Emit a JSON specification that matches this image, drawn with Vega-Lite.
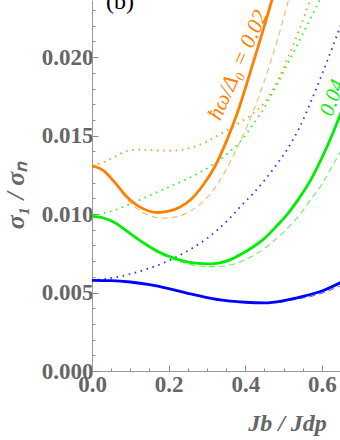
{
  "$schema": "https://vega.github.io/schema/vega-lite/v6.json",
  "width": 248,
  "height": 371,
  "autosize": "none",
  "padding": {"left": 92, "top": 0, "right": 0, "bottom": 69},
  "config": {"view": {"stroke": null}, "background": "white"},
  "datasets": {
    "curves": [
      {"curve":"orange","style":"solid","x":0,"y":0.01307},{"curve":"orange","style":"solid","x":0.03,"y":0.01277},{"curve":"orange","style":"solid","x":0.06,"y":0.012},{"curve":"orange","style":"solid","x":0.09,"y":0.01112},{"curve":"orange","style":"solid","x":0.12,"y":0.01052},{"curve":"orange","style":"solid","x":0.15,"y":0.01018},{"curve":"orange","style":"solid","x":0.17,"y":0.0101},{"curve":"orange","style":"solid","x":0.2,"y":0.01018},{"curve":"orange","style":"solid","x":0.23,"y":0.01045},{"curve":"orange","style":"solid","x":0.26,"y":0.01098},{"curve":"orange","style":"solid","x":0.29,"y":0.01185},{"curve":"orange","style":"solid","x":0.32,"y":0.013},{"curve":"orange","style":"solid","x":0.35,"y":0.0146},{"curve":"orange","style":"solid","x":0.38,"y":0.0165},{"curve":"orange","style":"solid","x":0.41,"y":0.0188},{"curve":"orange","style":"solid","x":0.44,"y":0.0212},{"curve":"orange","style":"solid","x":0.47,"y":0.0237},{"curve":"orange","style":"solid","x":0.48,"y":0.0246},
      {"curve":"orange","style":"dashed","x":0,"y":0.01307},{"curve":"orange","style":"dashed","x":0.03,"y":0.01275},{"curve":"orange","style":"dashed","x":0.06,"y":0.01195},{"curve":"orange","style":"dashed","x":0.09,"y":0.011},{"curve":"orange","style":"dashed","x":0.12,"y":0.0103},{"curve":"orange","style":"dashed","x":0.15,"y":0.0099},{"curve":"orange","style":"dashed","x":0.18,"y":0.00975},{"curve":"orange","style":"dashed","x":0.21,"y":0.00978},{"curve":"orange","style":"dashed","x":0.24,"y":0.00998},{"curve":"orange","style":"dashed","x":0.27,"y":0.0104},{"curve":"orange","style":"dashed","x":0.3,"y":0.01105},{"curve":"orange","style":"dashed","x":0.33,"y":0.012},{"curve":"orange","style":"dashed","x":0.36,"y":0.0133},{"curve":"orange","style":"dashed","x":0.39,"y":0.0148},{"curve":"orange","style":"dashed","x":0.42,"y":0.0165},{"curve":"orange","style":"dashed","x":0.45,"y":0.0185},{"curve":"orange","style":"dashed","x":0.48,"y":0.0208},{"curve":"orange","style":"dashed","x":0.51,"y":0.0234},{"curve":"orange","style":"dashed","x":0.52,"y":0.0243},
      {"curve":"orange","style":"dotted","x":0,"y":0.01307},{"curve":"orange","style":"dotted","x":0.03,"y":0.0133},{"curve":"orange","style":"dotted","x":0.06,"y":0.01365},{"curve":"orange","style":"dotted","x":0.09,"y":0.014},{"curve":"orange","style":"dotted","x":0.12,"y":0.0141},{"curve":"orange","style":"dotted","x":0.15,"y":0.01408},{"curve":"orange","style":"dotted","x":0.18,"y":0.01404},{"curve":"orange","style":"dotted","x":0.21,"y":0.01404},{"curve":"orange","style":"dotted","x":0.24,"y":0.01412},{"curve":"orange","style":"dotted","x":0.27,"y":0.01432},{"curve":"orange","style":"dotted","x":0.3,"y":0.01462},{"curve":"orange","style":"dotted","x":0.33,"y":0.01503},{"curve":"orange","style":"dotted","x":0.36,"y":0.01545},{"curve":"orange","style":"dotted","x":0.39,"y":0.0159},{"curve":"orange","style":"dotted","x":0.42,"y":0.0164},{"curve":"orange","style":"dotted","x":0.45,"y":0.0171},{"curve":"orange","style":"dotted","x":0.48,"y":0.0183},{"curve":"orange","style":"dotted","x":0.51,"y":0.0199},{"curve":"orange","style":"dotted","x":0.54,"y":0.0217},{"curve":"orange","style":"dotted","x":0.57,"y":0.0237},{"curve":"orange","style":"dotted","x":0.58,"y":0.0244},
      {"curve":"green","style":"solid","x":0,"y":0.00985},{"curve":"green","style":"solid","x":0.03,"y":0.00975},{"curve":"green","style":"solid","x":0.06,"y":0.00945},{"curve":"green","style":"solid","x":0.09,"y":0.00893},{"curve":"green","style":"solid","x":0.12,"y":0.0084},{"curve":"green","style":"solid","x":0.15,"y":0.00792},{"curve":"green","style":"solid","x":0.18,"y":0.00752},{"curve":"green","style":"solid","x":0.21,"y":0.00722},{"curve":"green","style":"solid","x":0.24,"y":0.007},{"curve":"green","style":"solid","x":0.27,"y":0.00687},{"curve":"green","style":"solid","x":0.3,"y":0.00682},{"curve":"green","style":"solid","x":0.33,"y":0.00688},{"curve":"green","style":"solid","x":0.36,"y":0.00708},{"curve":"green","style":"solid","x":0.39,"y":0.00745},{"curve":"green","style":"solid","x":0.42,"y":0.0079},{"curve":"green","style":"solid","x":0.45,"y":0.00845},{"curve":"green","style":"solid","x":0.48,"y":0.0092},{"curve":"green","style":"solid","x":0.51,"y":0.01},{"curve":"green","style":"solid","x":0.54,"y":0.011},{"curve":"green","style":"solid","x":0.57,"y":0.01215},{"curve":"green","style":"solid","x":0.6,"y":0.0136},{"curve":"green","style":"solid","x":0.63,"y":0.01525},{"curve":"green","style":"solid","x":0.66,"y":0.0171},
      {"curve":"green","style":"dashed","x":0,"y":0.00985},{"curve":"green","style":"dashed","x":0.03,"y":0.00975},{"curve":"green","style":"dashed","x":0.06,"y":0.00945},{"curve":"green","style":"dashed","x":0.09,"y":0.00893},{"curve":"green","style":"dashed","x":0.12,"y":0.00838},{"curve":"green","style":"dashed","x":0.15,"y":0.00788},{"curve":"green","style":"dashed","x":0.18,"y":0.00745},{"curve":"green","style":"dashed","x":0.21,"y":0.00712},{"curve":"green","style":"dashed","x":0.24,"y":0.00688},{"curve":"green","style":"dashed","x":0.27,"y":0.00672},{"curve":"green","style":"dashed","x":0.3,"y":0.00665},{"curve":"green","style":"dashed","x":0.33,"y":0.00665},{"curve":"green","style":"dashed","x":0.36,"y":0.00675},{"curve":"green","style":"dashed","x":0.39,"y":0.00698},{"curve":"green","style":"dashed","x":0.42,"y":0.00735},{"curve":"green","style":"dashed","x":0.45,"y":0.00782},{"curve":"green","style":"dashed","x":0.48,"y":0.0084},{"curve":"green","style":"dashed","x":0.51,"y":0.0091},{"curve":"green","style":"dashed","x":0.54,"y":0.0099},{"curve":"green","style":"dashed","x":0.57,"y":0.0109},{"curve":"green","style":"dashed","x":0.6,"y":0.0119},{"curve":"green","style":"dashed","x":0.63,"y":0.0132},{"curve":"green","style":"dashed","x":0.66,"y":0.0145},
      {"curve":"green","style":"dotted","x":0,"y":0.00985},{"curve":"green","style":"dotted","x":0.03,"y":0.01005},{"curve":"green","style":"dotted","x":0.06,"y":0.01025},{"curve":"green","style":"dotted","x":0.09,"y":0.01055},{"curve":"green","style":"dotted","x":0.12,"y":0.01085},{"curve":"green","style":"dotted","x":0.15,"y":0.01118},{"curve":"green","style":"dotted","x":0.18,"y":0.0115},{"curve":"green","style":"dotted","x":0.21,"y":0.01183},{"curve":"green","style":"dotted","x":0.24,"y":0.01215},{"curve":"green","style":"dotted","x":0.27,"y":0.0125},{"curve":"green","style":"dotted","x":0.3,"y":0.0129},{"curve":"green","style":"dotted","x":0.33,"y":0.0134},{"curve":"green","style":"dotted","x":0.36,"y":0.014},{"curve":"green","style":"dotted","x":0.39,"y":0.0147},{"curve":"green","style":"dotted","x":0.42,"y":0.0157},{"curve":"green","style":"dotted","x":0.45,"y":0.0168},{"curve":"green","style":"dotted","x":0.48,"y":0.01815},{"curve":"green","style":"dotted","x":0.51,"y":0.01955},{"curve":"green","style":"dotted","x":0.54,"y":0.021},{"curve":"green","style":"dotted","x":0.57,"y":0.02245},{"curve":"green","style":"dotted","x":0.6,"y":0.02395},{"curve":"green","style":"dotted","x":0.61,"y":0.0245},
      {"curve":"blue","style":"solid","x":0,"y":0.00578},{"curve":"blue","style":"solid","x":0.05,"y":0.00576},{"curve":"blue","style":"solid","x":0.1,"y":0.00567},{"curve":"blue","style":"solid","x":0.15,"y":0.0055},{"curve":"blue","style":"solid","x":0.2,"y":0.00525},{"curve":"blue","style":"solid","x":0.25,"y":0.00495},{"curve":"blue","style":"solid","x":0.3,"y":0.00468},{"curve":"blue","style":"solid","x":0.35,"y":0.00448},{"curve":"blue","style":"solid","x":0.4,"y":0.00438},{"curve":"blue","style":"solid","x":0.45,"y":0.00434},{"curve":"blue","style":"solid","x":0.5,"y":0.00448},{"curve":"blue","style":"solid","x":0.55,"y":0.00475},{"curve":"blue","style":"solid","x":0.6,"y":0.0051},{"curve":"blue","style":"solid","x":0.65,"y":0.00565},
      {"curve":"blue","style":"dashed","x":0,"y":0.00578},{"curve":"blue","style":"dashed","x":0.05,"y":0.00576},{"curve":"blue","style":"dashed","x":0.1,"y":0.00567},{"curve":"blue","style":"dashed","x":0.15,"y":0.0055},{"curve":"blue","style":"dashed","x":0.2,"y":0.00525},{"curve":"blue","style":"dashed","x":0.25,"y":0.00495},{"curve":"blue","style":"dashed","x":0.3,"y":0.00468},{"curve":"blue","style":"dashed","x":0.35,"y":0.00447},{"curve":"blue","style":"dashed","x":0.4,"y":0.00436},{"curve":"blue","style":"dashed","x":0.45,"y":0.00432},{"curve":"blue","style":"dashed","x":0.5,"y":0.00442},{"curve":"blue","style":"dashed","x":0.55,"y":0.00465},{"curve":"blue","style":"dashed","x":0.6,"y":0.00495},{"curve":"blue","style":"dashed","x":0.65,"y":0.00545},
      {"curve":"blue","style":"dotted","x":0,"y":0.00578},{"curve":"blue","style":"dotted","x":0.03,"y":0.00585},{"curve":"blue","style":"dotted","x":0.06,"y":0.00596},{"curve":"blue","style":"dotted","x":0.09,"y":0.00612},{"curve":"blue","style":"dotted","x":0.12,"y":0.00632},{"curve":"blue","style":"dotted","x":0.15,"y":0.00655},{"curve":"blue","style":"dotted","x":0.18,"y":0.00682},{"curve":"blue","style":"dotted","x":0.21,"y":0.00714},{"curve":"blue","style":"dotted","x":0.24,"y":0.00752},{"curve":"blue","style":"dotted","x":0.27,"y":0.00795},{"curve":"blue","style":"dotted","x":0.3,"y":0.00845},{"curve":"blue","style":"dotted","x":0.33,"y":0.00905},{"curve":"blue","style":"dotted","x":0.36,"y":0.00975},{"curve":"blue","style":"dotted","x":0.39,"y":0.01055},{"curve":"blue","style":"dotted","x":0.42,"y":0.0113},{"curve":"blue","style":"dotted","x":0.45,"y":0.01215},{"curve":"blue","style":"dotted","x":0.48,"y":0.0131},{"curve":"blue","style":"dotted","x":0.51,"y":0.01415},{"curve":"blue","style":"dotted","x":0.54,"y":0.01545},{"curve":"blue","style":"dotted","x":0.57,"y":0.0171},{"curve":"blue","style":"dotted","x":0.6,"y":0.0189},{"curve":"blue","style":"dotted","x":0.63,"y":0.0208},{"curve":"blue","style":"dotted","x":0.65,"y":0.0221}
    ],
    "labels": [
      {"name":"orange","x":0.38,"y":0.0195,"text":"ħω/Δ₀ = 0.02"},
      {"name":"green","x":0.628,"y":0.0174,"text":"0.04"},
      {"name":"panel","x":0.073,"y":0.02307,"text":"(b)"}
    ]
  },
  "encoding": {
    "x": {
      "field": "x", "type": "quantitative",
      "scale": {"domain": [0, 0.647], "nice": false, "zero": false},
      "axis": {
        "title": "Jb / Jdp",
        "values": [0,0.05,0.1,0.15,0.2,0.25,0.3,0.35,0.4,0.45,0.5,0.55,0.6],
        "labelExpr": "abs(datum.value*5 - round(datum.value*5)) < 0.001 ? format(datum.value, '.1f') : ''",
        "grid": false,
        "domainColor": "#9a9a9a", "tickColor": "#8a8a8a", "tickWidth": 1,
        "tickSize": {"condition": {"test": "abs(datum.value*5 - round(datum.value*5)) < 0.001", "value": -6}, "value": -3},
        "labelFont": "Liberation Serif", "labelFontWeight": "bold", "labelFontSize": 23, "labelColor": "#666666",
        "labelPadding": 8, "labelFlush": false, "labelOverlap": false,
        "titleFont": "Liberation Serif", "titleFontStyle": "italic", "titleFontWeight": "bold", "titleFontSize": 24, "titleColor": "#666666",
        "titleX": 195, "titleY": 59, "titleBaseline": "alphabetic", "titleAlign": "center"
      }
    },
    "y": {
      "field": "y", "type": "quantitative",
      "scale": {"domain": [0, 0.02364], "nice": false},
      "axis": {
        "title": "σ₁ / σₙ",
        "values": [0,0.001,0.002,0.003,0.004,0.005,0.006,0.007,0.008,0.009,0.01,0.011,0.012,0.013,0.014,0.015,0.016,0.017,0.018,0.019,0.02,0.021,0.022,0.023],
        "labelExpr": "abs(datum.value*200 - round(datum.value*200)) < 0.001 ? format(datum.value, '.3f') : ''",
        "grid": false,
        "domainColor": "#9a9a9a", "tickColor": "#8a8a8a", "tickWidth": 1,
        "tickSize": {"condition": {"test": "abs(datum.value*200 - round(datum.value*200)) < 0.001", "value": -6}, "value": -3},
        "labelFont": "Liberation Serif", "labelFontWeight": "bold", "labelFontSize": 23, "labelColor": "#666666",
        "labelPadding": 5, "labelFlush": false, "labelOverlap": false,
        "titleFont": "Liberation Serif", "titleFontStyle": "italic", "titleFontWeight": "bold", "titleFontSize": 26, "titleColor": "#666666",
        "titleX": -77, "titleY": 195, "titleBaseline": "middle", "titleAlign": "center", "titleAngle": -90
      }
    }
  },
  "layer": [
    {
      "data": {"name": "curves"},
      "transform": [{"filter": "datum.style === 'dashed'"}],
      "mark": {"type": "line", "clip": true, "interpolate": "monotone", "strokeWidth": 1.1, "strokeDash": [6, 4], "opacity": 0.6},
      "encoding": {
        "color": {"field": "curve", "type": "nominal", "scale": {"domain": ["orange","green","blue"], "range": ["#ff8000","#00ee00","#0000ff"]}, "legend": null},
        "detail": {"field": "curve"}
      }
    },
    {
      "data": {"name": "curves"},
      "transform": [{"filter": "datum.style === 'dotted'"}],
      "mark": {"type": "line", "clip": true, "interpolate": "monotone", "strokeWidth": 1.8, "strokeDash": [1.6, 4.6], "opacity": 0.8},
      "encoding": {
        "color": {"field": "curve", "type": "nominal", "scale": {"domain": ["orange","green","blue"], "range": ["#ff8000","#00ee00","#0000ff"]}, "legend": null},
        "detail": {"field": "curve"}
      }
    },
    {
      "data": {"name": "curves"},
      "transform": [{"filter": "datum.style === 'solid'"}],
      "mark": {"type": "line", "clip": true, "interpolate": "monotone", "strokeWidth": 2.8},
      "encoding": {
        "color": {"field": "curve", "type": "nominal", "scale": {"domain": ["orange","green","blue"], "range": ["#ff8000","#00ee00","#0000ff"]}, "legend": null},
        "detail": {"field": "curve"}
      }
    },
    {
      "data": {"name": "labels"},
      "transform": [{"filter": "datum.name === 'orange'"}],
      "mark": {"type": "text", "angle": -66, "font": "Liberation Serif", "fontStyle": "italic", "fontSize": 22, "color": "#ff8000", "align": "center", "baseline": "middle"},
      "encoding": {"text": {"field": "text"}}
    },
    {
      "data": {"name": "labels"},
      "transform": [{"filter": "datum.name === 'green'"}],
      "mark": {"type": "text", "clip": true, "angle": -70, "font": "Liberation Serif", "fontStyle": "italic", "fontSize": 21, "color": "#00ee00", "align": "center", "baseline": "middle"},
      "encoding": {"text": {"field": "text"}}
    },
    {
      "data": {"name": "labels"},
      "transform": [{"filter": "datum.name === 'panel'"}],
      "mark": {"type": "text", "font": "Liberation Serif", "fontSize": 24, "color": "#000000", "align": "center", "baseline": "alphabetic"},
      "encoding": {"text": {"field": "text"}}
    }
  ]
}
